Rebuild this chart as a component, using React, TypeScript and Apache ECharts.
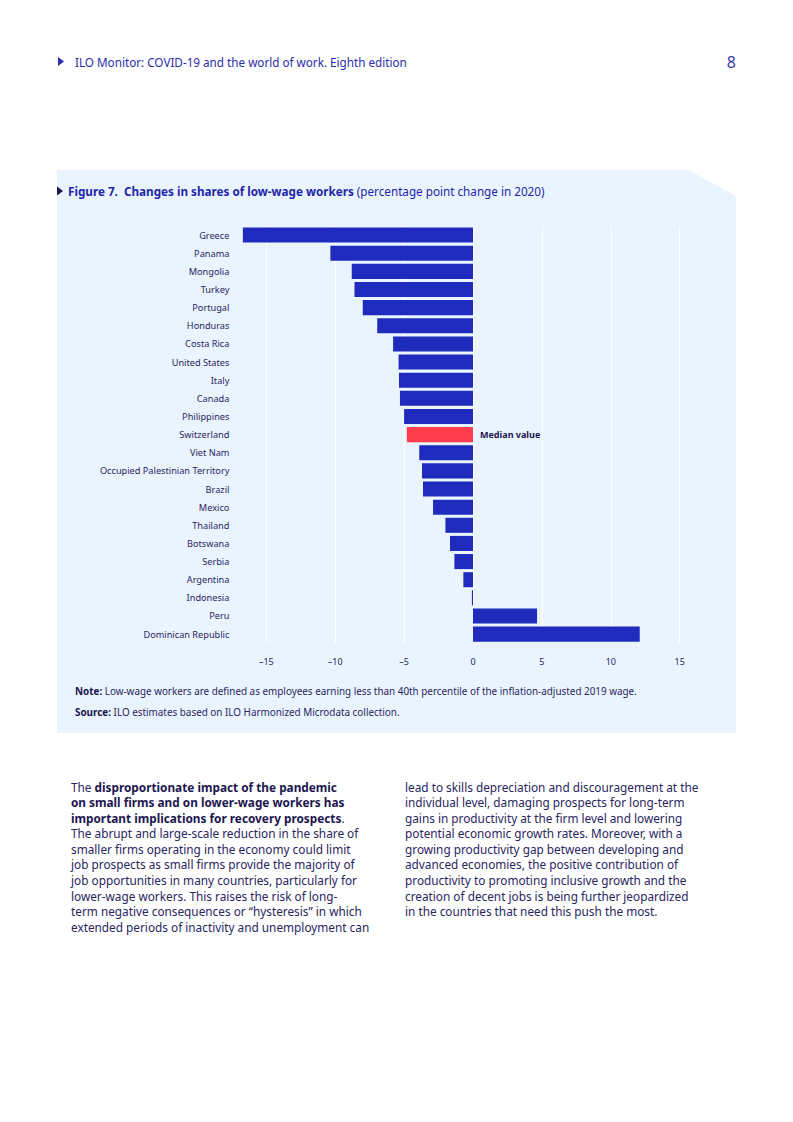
import React, { useEffect, useRef } from "react";
import * as echarts from "echarts";

const categories = [
  "Greece", "Panama", "Mongolia", "Turkey", "Portugal", "Honduras", "Costa Rica",
  "United States", "Italy", "Canada", "Philippines", "Switzerland", "Viet Nam",
  "Occupied Palestinian Territory", "Brazil", "Mexico", "Thailand", "Botswana",
  "Serbia", "Argentina", "Indonesia", "Peru", "Dominican Republic",
];
const values = [
  -16.7, -10.35, -8.8, -8.6, -8.0, -6.95, -5.8, -5.4, -5.37, -5.3, -5.0, -4.8,
  -3.9, -3.7, -3.63, -2.9, -2.0, -1.67, -1.35, -0.7, -0.08, 4.65, 12.1,
];
const medianCountry = "Switzerland";
const medianLabel = "Median value";
const xMin = -20;
const xMax = 20;
const xInterval = 5;

const headerText = "ILO Monitor: COVID-19 and the world of work. Eighth edition";
const pageNumber = "8";
const titleBold = "Figure 7.  Changes in shares of low-wage workers";
const titleRest = " (percentage point change in 2020)";
const noteLine = "{b|Note:} Low-wage workers are defined as employees earning less than 40th percentile of the inflation-adjusted 2019 wage.";
const sourceLine = "{b|Source:} ILO estimates based on ILO Harmonized Microdata collection.";
const leftColumn = [
  "The {b|disproportionate impact of the pandemic}",
  "{b|on small firms and on lower-wage workers has}",
  "{b|important implications for recovery prospects}.",
  "The abrupt and large-scale reduction in the share of",
  "smaller firms operating in the economy could limit",
  "job prospects as small firms provide the majority of",
  "job opportunities in many countries, particularly for",
  "lower-wage workers. This raises the risk of long-",
  "term negative consequences or “hysteresis” in which",
  "extended periods of inactivity and unemployment can",
];
const rightColumn = [
  "lead to skills depreciation and discouragement at the",
  "individual level, damaging prospects for long-term",
  "gains in productivity at the firm level and lowering",
  "potential economic growth rates. Moreover, with a",
  "growing productivity gap between developing and",
  "advanced economies, the positive contribution of",
  "productivity to promoting inclusive growth and the",
  "creation of decent jobs is being further jeopardized",
  "in the countries that need this push the most.",
];

const FONT = "'Noto Sans', 'Open Sans', sans-serif";
const NAVY = "#29255e";
const BAR = "#1f2bbd";
const RED = "#ff3b4c";

export default function App() {
  const ref = useRef<HTMLDivElement>(null);
  useEffect(() => {
    if (!ref.current) return;
    const chart = echarts.init(ref.current, null, { renderer: "svg" });

    const bodyLines: any[] = [];
    const lineH = 15.55;
    const bodySize = 11.8;
    const rich = { b: { fontWeight: "bold", fontFamily: FONT, fontSize: bodySize, fill: "#1c1650" } };
    leftColumn.forEach((t, i) => {
      bodyLines.push({
        type: "text", x: 71, y: 786.7 + i * lineH,
        style: { text: t, rich, fontFamily: FONT, fontSize: bodySize, fill: NAVY, verticalAlign: "middle", textAlign: "left" },
      });
    });
    rightColumn.forEach((t, i) => {
      bodyLines.push({
        type: "text", x: 405, y: 786.7 + i * lineH,
        style: { text: t, rich, fontFamily: FONT, fontSize: bodySize, fill: NAVY, verticalAlign: "middle", textAlign: "left" },
      });
    });

    const noteSize = 9.9;
    const noteRich = { b: { fontWeight: "bold", fontFamily: FONT, fontSize: noteSize, fill: "#1c1650" } };

    chart.setOption({
      animation: false,
      graphic: [
        {
          type: "polygon", z: -10,
          shape: { points: [[57, 170], [688, 170], [736, 196], [736, 733], [57, 733]] },
          style: { fill: "#eaf4fe" },
        },
        {
          type: "polygon",
          shape: { points: [[58, 57], [64, 61.5], [58, 66]] },
          style: { fill: "#2a2ea8" },
        },
        {
          type: "text", x: 75, y: 61.5,
          style: { text: headerText, fontFamily: FONT, fontSize: 11.7, fill: "#2a2ea8", verticalAlign: "middle" },
        },
        {
          type: "text", x: 736, y: 62,
          style: { text: pageNumber, fontFamily: FONT, fontSize: 16, fill: "#3a3aa8", textAlign: "right", verticalAlign: "middle" },
        },
        {
          type: "polygon",
          shape: { points: [[57, 186.5], [63, 191], [57, 195.5]] },
          style: { fill: "#1c1650" },
        },
        {
          type: "text", x: 68, y: 191,
          style: {
            text: "{b|" + titleBold + "}" + titleRest,
            rich: { b: { fontWeight: "bold", fontFamily: FONT, fontSize: 11.7, fill: "#2326a8" } },
            fontFamily: FONT, fontSize: 11.7, fill: "#2326a8", verticalAlign: "middle",
          },
        },
        {
          type: "text", x: 75, y: 691,
          style: { text: noteLine, rich: noteRich, fontFamily: FONT, fontSize: noteSize, fill: NAVY, verticalAlign: "middle" },
        },
        {
          type: "text", x: 75, y: 712,
          style: { text: sourceLine, rich: noteRich, fontFamily: FONT, fontSize: noteSize, fill: NAVY, verticalAlign: "middle" },
        },
        ...bodyLines,
      ],
      grid: { left: 197.4, width: 551.2, top: 226, height: 417.2, containLabel: false },
      xAxis: {
        type: "value",
        min: xMin, max: xMax, interval: xInterval,
        axisLine: { show: false },
        axisTick: { show: false },
        splitLine: { show: true, showMinLine: false, showMaxLine: false, lineStyle: { color: "#ffffff", width: 1 } },
        axisLabel: {
          margin: 14,
          fontFamily: FONT, fontSize: 9, color: NAVY,
          formatter: (v: number) => (Math.abs(v) >= 20 ? "" : v < 0 ? "\u2013" + Math.abs(v) : String(v)),
        },
      },
      yAxis: {
        type: "category",
        data: categories,
        inverse: true,
        axisLine: { show: false, onZero: false },
        axisTick: { show: false },
        splitLine: { show: false },
        axisLabel: { margin: -32, fontFamily: FONT, fontSize: 9.2, color: NAVY, interval: 0 },
      },
      series: [
        {
          type: "bar",
          barCategoryGap: "17%",
          data: values.map((v, i) =>
            categories[i] === medianCountry
              ? {
                  value: v,
                  itemStyle: { color: RED },
                  label: {
                    show: true, position: "right", distance: 7,
                    formatter: medianLabel,
                    fontFamily: FONT, fontSize: 9, fontWeight: "bold", color: "#1c1650",
                  },
                }
              : { value: v }
          ),
          itemStyle: { color: BAR },
        },
      ],
    });
    return () => chart.dispose();
  }, []);
  return <div ref={ref} style={{ position: "absolute", left: 0, top: 0, width: 793, height: 1122 }} />;
}
